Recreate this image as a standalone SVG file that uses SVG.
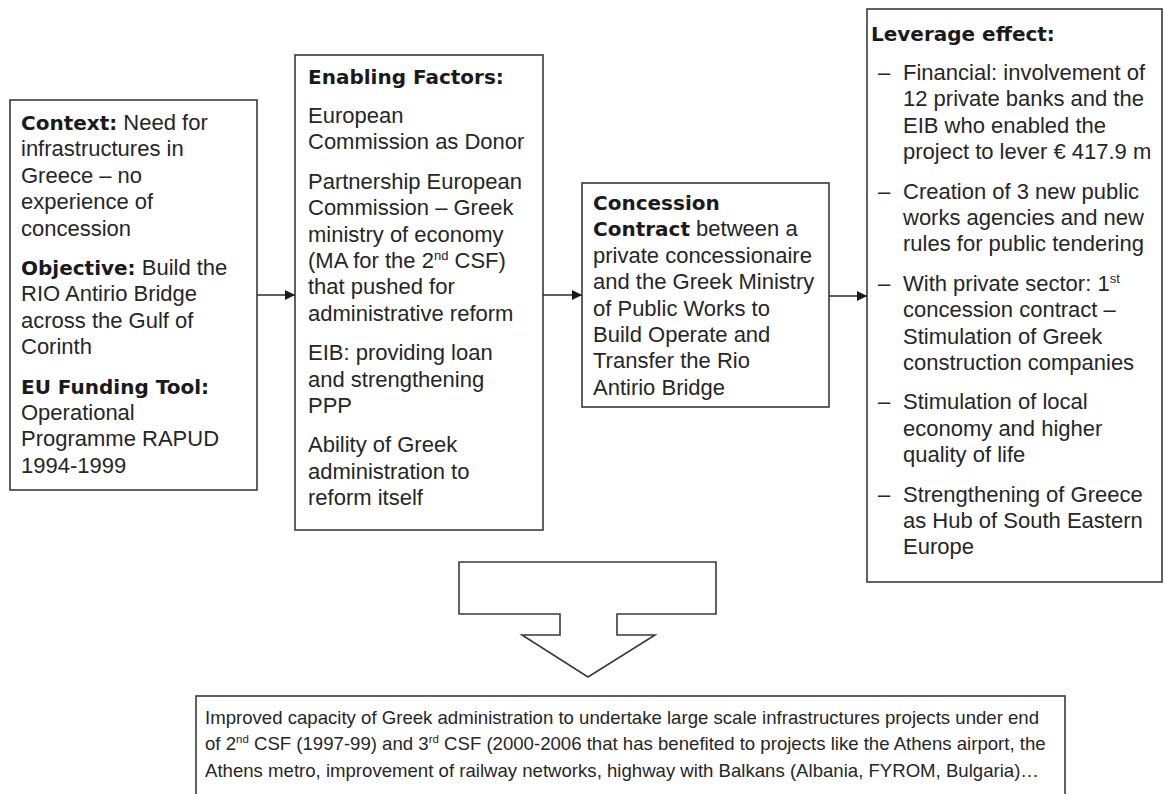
<svg xmlns="http://www.w3.org/2000/svg" width="1165" height="794" viewBox="0 0 1165 794">
<style>
.box{fill:#fff;stroke:#3a3a3a;stroke-width:1.6}
.t{font-family:"Liberation Sans",Arial,sans-serif;font-size:22px;fill:#262626}
.bt{font-family:"Liberation Sans",Arial,sans-serif;font-size:18.6px;fill:#262626}
.h{font-family:"DejaVu Sans",Verdana,sans-serif;font-weight:bold;font-size:20px;fill:#1a1a1a}
.sup{font-size:13px}
.bsup{font-size:11.5px}
.conn{stroke:#2a2a2a;stroke-width:1.6;fill:none}
</style>
<defs>
<marker id="ah" viewBox="0 0 10 10" refX="10" refY="5" markerWidth="11" markerHeight="10" markerUnits="userSpaceOnUse" orient="auto">
<path d="M0,0 L10,5 L0,10 z" fill="#1a1a1a"/>
</marker>
</defs>
<rect width="1165" height="794" fill="#fff"/>

<g id="context">
<rect class="box" x="10" y="100" width="247" height="390"/>
<text class="t" x="21" y="130"><tspan class="h">Context:</tspan> Need for</text>
<text class="t" x="21" y="156.4">infrastructures in</text>
<text class="t" x="21" y="182.8">Greece – no</text>
<text class="t" x="21" y="209.2">experience of</text>
<text class="t" x="21" y="235.6">concession</text>
<text class="t" x="21" y="275"><tspan class="h">Objective:</tspan> Build the</text>
<text class="t" x="21" y="301.4">RIO Antirio Bridge</text>
<text class="t" x="21" y="327.8">across the Gulf of</text>
<text class="t" x="21" y="354.2">Corinth</text>
<text class="h" x="21" y="393.6">EU Funding Tool:</text>
<text class="t" x="21" y="420">Operational</text>
<text class="t" x="21" y="446.4">Programme RAPUD</text>
<text class="t" x="21" y="472.8">1994-1999</text>
</g>

<g id="enabling">
<rect class="box" x="295" y="55" width="248" height="475"/>
<text class="h" x="308" y="83.6">Enabling Factors:</text>
<text class="t" x="308" y="123">European</text>
<text class="t" x="308" y="149.4">Commission as Donor</text>
<text class="t" x="308" y="188.8">Partnership European</text>
<text class="t" x="308" y="215.2">Commission – Greek</text>
<text class="t" x="308" y="241.6">ministry of economy</text>
<text class="t" x="308" y="268">(MA for the 2<tspan class="sup" dy="-8">nd</tspan><tspan dy="8"> CSF)</tspan></text>
<text class="t" x="308" y="294.4">that pushed for</text>
<text class="t" x="308" y="320.8">administrative reform</text>
<text class="t" x="308" y="360.2">EIB: providing loan</text>
<text class="t" x="308" y="386.6">and strengthening</text>
<text class="t" x="308" y="413">PPP</text>
<text class="t" x="308" y="452.4">Ability of Greek</text>
<text class="t" x="308" y="478.8">administration to</text>
<text class="t" x="308" y="505.2">reform itself</text>
</g>

<g id="concession">
<rect class="box" x="582" y="183" width="247" height="224"/>
<text class="h" x="593" y="210">Concession</text>
<text class="t" x="593" y="236.4"><tspan class="h">Contract</tspan> between a</text>
<text class="t" x="593" y="262.8">private concessionaire</text>
<text class="t" x="593" y="289.2">and the Greek Ministry</text>
<text class="t" x="593" y="315.6">of Public Works to</text>
<text class="t" x="593" y="342">Build Operate and</text>
<text class="t" x="593" y="368.4">Transfer the Rio</text>
<text class="t" x="593" y="394.8">Antirio Bridge</text>
</g>

<g id="leverage">
<rect class="box" x="867" y="9" width="295" height="573"/>
<text class="h" x="871" y="40.6">Leverage effect:</text>
<text class="t" x="878" y="80">–</text>
<text class="t" x="903" y="80">Financial: involvement of</text>
<text class="t" x="903" y="106.4">12 private banks and the</text>
<text class="t" x="903" y="132.8">EIB who enabled the</text>
<text class="t" x="903" y="159.2">project to lever € 417.9 m</text>
<text class="t" x="878" y="198.6">–</text>
<text class="t" x="903" y="198.6">Creation of 3 new public</text>
<text class="t" x="903" y="225">works agencies and new</text>
<text class="t" x="903" y="251.4">rules for public tendering</text>
<text class="t" x="878" y="290.8">–</text>
<text class="t" x="903" y="290.8">With private sector: 1<tspan class="sup" dy="-8">st</tspan></text>
<text class="t" x="903" y="317.2">concession contract –</text>
<text class="t" x="903" y="343.6">Stimulation of Greek</text>
<text class="t" x="903" y="370">construction companies</text>
<text class="t" x="878" y="409.4">–</text>
<text class="t" x="903" y="409.4">Stimulation of local</text>
<text class="t" x="903" y="435.8">economy and higher</text>
<text class="t" x="903" y="462.2">quality of life</text>
<text class="t" x="878" y="501.6">–</text>
<text class="t" x="903" y="501.6">Strengthening of Greece</text>
<text class="t" x="903" y="528">as Hub of South Eastern</text>
<text class="t" x="903" y="554.4">Europe</text>
</g>

<g id="result-arrow">
<polygon class="box" points="459,562 716,562 716,614 617,614 617,635 655,635 588,677 522,635 560,635 560,614 459,614"/>
</g>

<g id="result">
<rect class="box" x="196" y="696" width="869" height="110"/>
<text class="bt" x="205" y="724">Improved capacity of Greek administration to undertake large scale infrastructures projects under end</text>
<text class="bt" x="205" y="750">of 2<tspan class="bsup" dy="-7">nd</tspan><tspan dy="7"> CSF (1997-99) and 3</tspan><tspan class="bsup" dy="-7">rd</tspan><tspan dy="7"> CSF (2000-2006 that has benefited to projects like the Athens airport, the</tspan></text>
<text class="bt" x="205" y="777">Athens metro, improvement of railway networks, highway with Balkans (Albania, FYROM, Bulgaria)…</text>
</g>

<g id="connectors">
<line class="conn" x1="257" y1="295" x2="295" y2="295" marker-end="url(#ah)"/>
<line class="conn" x1="543" y1="295" x2="582" y2="295" marker-end="url(#ah)"/>
<line class="conn" x1="829" y1="296" x2="867" y2="296" marker-end="url(#ah)"/>
</g>
</svg>
